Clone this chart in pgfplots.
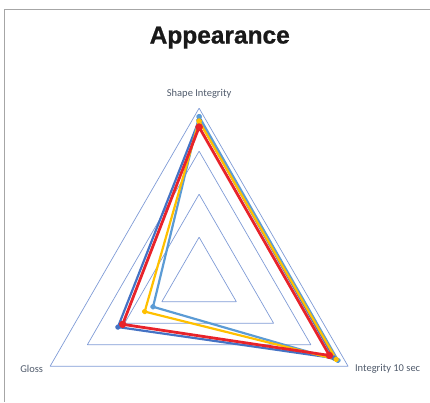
\documentclass[border=0pt]{standalone}
\usepackage{pgfplots}
\pgfplotsset{compat=1.18}
\usepackage{fontspec}
\setmainfont{Carlito}
\newfontfamily\titlefont[BoldFeatures={FakeBold=0.9}]{Liberation Sans}
\definecolor{dblue}{HTML}{4472C4}
\definecolor{lblue}{HTML}{5B9BD5}
\definecolor{sred}{HTML}{E8232A}
\definecolor{syel}{HTML}{FFC000}
\definecolor{gridc}{HTML}{7F9BD6}
\definecolor{labc}{HTML}{4F5A6B}
\begin{document}
\begin{tikzpicture}
\begin{axis}[
  scale only axis, width=430pt, height=402pt,
  xmin=-1.1574, xmax=1.3397, ymin=-0.7056, ymax=1.6289,
  hide axis, clip=false,
  every axis plot/.append style={line join=round},
]
\path (rel axis cs:0,0) rectangle (rel axis cs:1,1);
% frame
\draw[gray!70, line width=0.9pt] (axis cs:-1.130,-0.7056) -- (axis cs:-1.130,1.575) -- (axis cs:1.3397,1.575);
% grid
\addplot[gridc, line width=0.7pt, data cs=polar] coordinates {(90,0.25) (210,0.25) (330,0.25) (90,0.25)};
\addplot[gridc, line width=0.7pt, data cs=polar] coordinates {(90,0.5) (210,0.5) (330,0.5) (90,0.5)};
\addplot[gridc, line width=0.7pt, data cs=polar] coordinates {(90,0.75) (210,0.75) (330,0.75) (90,0.75)};
\addplot[gridc, line width=0.7pt, data cs=polar] coordinates {(90,1) (210,1) (330,1) (90,1)};
% series
\addplot[dblue, line width=2.2pt, mark=*, mark size=1.8pt, data cs=polar] coordinates {(90,0.93) (210,0.545) (330,0.905) (90,0.93)};
\addplot[lblue, line width=2.2pt, mark=*, mark size=1.8pt, data cs=polar] coordinates {(90,0.951) (210,0.309) (330,0.932) (90,0.951)};
\addplot[syel, line width=2.2pt, mark=*, mark size=1.8pt, data cs=polar] coordinates {(90,0.925) (210,0.365) (330,0.92) (90,0.925)};
\addplot[sred, line width=2.8pt, mark=*, mark size=2.2pt, data cs=polar] coordinates {(90,0.89) (210,0.513) (330,0.875) (90,0.89)};
% labels
\node[text=labc, font=\fontsize{10.5}{12}\selectfont] at (axis cs:0,1.083) {Shape Integrity};
\node[text=labc, font=\fontsize{10.5}{12}\selectfont] at (axis cs:-0.973,-0.514) {Gloss};
\node[text=labc, font=\fontsize{10.5}{12}\selectfont] at (axis cs:1.096,-0.514) {Integrity 10 sec};
\node[text=black!90, font=\titlefont\bfseries\fontsize{24.5}{28}\selectfont] at (axis cs:0.12,1.41) {Appearance};
\end{axis}
\end{tikzpicture}
\end{document}
